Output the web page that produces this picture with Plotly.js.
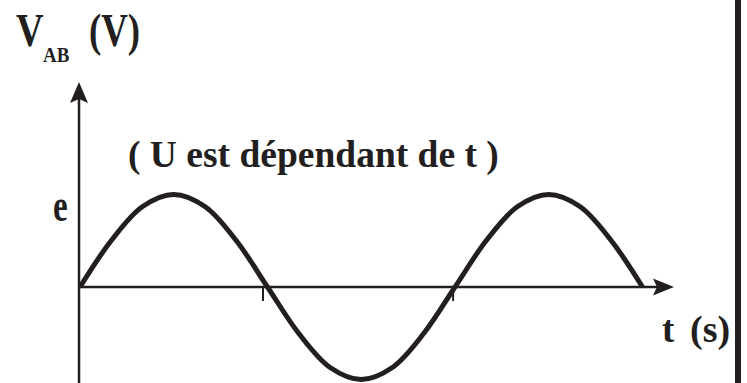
<!DOCTYPE html>
<html>
<head>
<meta charset="utf-8">
<script src="https://cdn.plot.ly/plotly-3.0.1.min.js"></script>
<style>html,body{margin:0;padding:0;background:#fff;}#plot{width:747px;height:383px;}</style>
</head>
<body>
<div id="plot"></div>
<script>
// Data (t in periods T, V in units of amplitude e)
const tValues = [0, 0.083, 0.167, 0.25, 0.333, 0.417, 0.5, 0.583, 0.667, 0.75, 0.833, 0.917, 1, 1.083, 1.167, 1.25, 1.333, 1.417, 1.5];
const vValues = [0, 0.5, 0.87, 1, 0.87, 0.5, 0, -0.5, -0.87, -1, -0.87, -0.5, 0, 0.5, 0.87, 1, 0.87, 0.5, 0];
const tickPositions = [0.488, 0.995];
const yLabel = "e";
const titleMain = "V";
const titleSub = "AB";
const titleUnit = "(V)";
const note = "( U est dépendant de t )";
const xName = "t";
const xUnit = "(s)";

const W = 747, H = 383;
const INK = "#231f20";
const FONT = "Liberation Serif";
const px = x => x / W;
const py = y => 1 - y / H;

// axis mapping: t=0 at 80px, period 375px; V=0 at 287px, amplitude 92.5px
const x0 = 80, per = 375, y0 = 287, amp = 92.5;
const xRange = [(0 - x0) / per, (W - x0) / per];
const yRange = [(y0 - H) / amp, (y0 - 0) / amp];

const trace = {
  x: tValues, y: vValues, type: "scatter", mode: "lines",
  line: {shape: "spline", smoothing: 1, width: 5, color: INK},
  hoverinfo: "skip", cliponaxis: false
};

const shapes = [
  // vertical axis
  {type: "line", xref: "paper", yref: "paper", x0: px(79), x1: px(79), y0: py(383), y1: py(95), line: {color: INK, width: 2.5}},
  {type: "path", xref: "paper", yref: "paper", fillcolor: INK, line: {width: 0},
   path: `M ${px(79)} ${py(82)} L ${px(88)} ${py(103)} L ${px(79)} ${py(99)} L ${px(70)} ${py(103)} Z`},
  // horizontal axis
  {type: "line", xref: "paper", yref: "paper", x0: px(78), x1: px(662), y0: py(287), y1: py(287), line: {color: INK, width: 2.5}},
  {type: "path", xref: "paper", yref: "paper", fillcolor: INK, line: {width: 0},
   path: `M ${px(674)} ${py(287)} L ${px(653)} ${py(278.5)} L ${px(657)} ${py(287)} L ${px(653)} ${py(295.5)} Z`},
  // right border bar
  {type: "rect", xref: "paper", yref: "paper", x0: px(735), x1: px(741), y0: 0, y1: 1, fillcolor: INK, line: {width: 0}}
];
tickPositions.forEach(t => {
  shapes.push({type: "line", xref: "x", yref: "paper", x0: t, x1: t, y0: py(287), y1: py(301), line: {color: INK, width: 2}});
});

// [text, left x px, middle y px, font size, horizontal squeeze]
const labels = [
  [titleMain, 14, 31, 46, 0.83],
  [titleSub, 41, 55, 21, 0.9],
  [titleUnit, 87, 31, 46, 0.8],
  [note, 126, 155, 37.5, 1],
  [yLabel, 51, 205, 46, 0.72],
  [xName, 660, 329, 37, 1],
  [xUnit, 688, 329, 38, 1]
];

const annotations = labels.map(([text, x, y, size]) => ({
  text: "<b>" + text + "</b>", xref: "paper", yref: "paper", x: px(x), y: py(y),
  xanchor: "left", yanchor: "middle", showarrow: false,
  font: {family: FONT, size, color: INK}
}));

const layout = {
  width: W, height: H, margin: {l: 0, r: 0, t: 0, b: 0},
  paper_bgcolor: "#fff", plot_bgcolor: "#fff", showlegend: false,
  xaxis: {range: xRange, visible: false, fixedrange: true},
  yaxis: {range: yRange, visible: false, fixedrange: true},
  shapes, annotations
};

Plotly.newPlot("plot", [trace], layout, {staticPlot: true, displayModeBar: false}).then(gd => {
  gd.querySelectorAll("g.annotation").forEach(g => {
    const i = +g.getAttribute("data-index");
    const s = labels[i][4];
    if (s === 1) return;
    const t = g.querySelector("text");
    const bb = t.getBBox();
    const cx = bb.x;
    t.setAttribute("transform", `translate(${cx},0) scale(${s},1) translate(${-cx},0)`);
  });
});
</script>
</body>
</html>
